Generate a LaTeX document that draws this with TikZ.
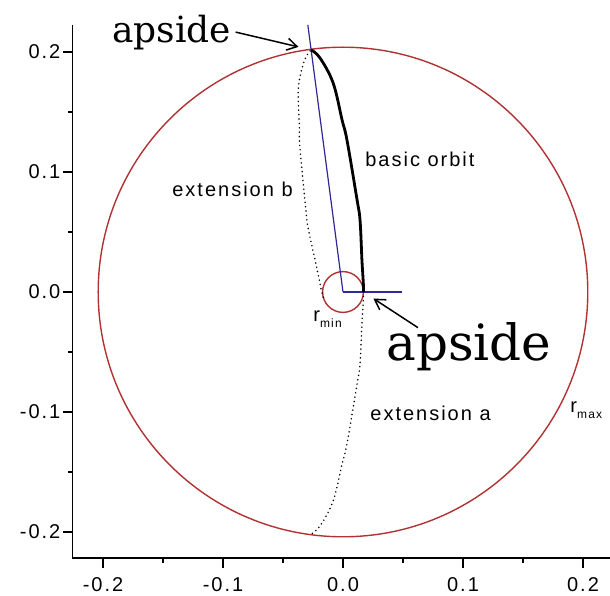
\documentclass[tikz,border=0pt]{standalone}
\usepackage{fontspec}
\usepackage{tikz}
\usetikzlibrary{arrows.meta}
\newfontfamily\plotfont[LetterSpace=10]{Liberation Sans}
\newfontfamily\notefont{DejaVu Serif}
\definecolor{OrbRed}{RGB}{176,50,50}
\definecolor{OrbBlue}{RGB}{46,40,150}
\newcommand{\orbitarc}[1]{\draw[#1] plot[smooth,tension=0.6] coordinates {(0:0.017) (20:0.0181) (38:0.0211) (59.4:0.031) (76.7:0.0617) (81.3:0.0776) (88.5:0.1267) (90.3:0.1433) (92.7:0.1744) (95.6:0.1959) (97.5:0.2035)};}

\begin{document}
\begin{tikzpicture}[x=600pt,y=600pt,>={Straight Barb[length=5pt,width=6pt]}]
  \tikzstyle{axisline}=[black,line width=0.6pt]
  \tikzstyle{ring}=[OrbRed,line width=0.7pt]
  \tikzstyle{apsline}=[OrbBlue,line width=0.6pt]
  \tikzstyle{orbitline}=[black,line width=1.4pt]
  \tikzstyle{extline}=[black,line width=0.85pt,line cap=round,dash pattern=on 0pt off 2.2pt]
  \tikzstyle{plotlabel}=[inner sep=0pt,anchor=base west,font=\plotfont\fontsize{10}{12}\selectfont]
  \tikzstyle{ticklabel}=[inner sep=0pt,font=\plotfont\fontsize{10}{12}\selectfont]
  \tikzstyle{biglabel}=[inner sep=0pt,anchor=base west]
  \useasboundingbox (-0.28583,-0.25333) rectangle (0.2225,0.24333);
  % axes
  \draw[axisline] (-0.2252,0.2225) -- (-0.2252,-0.2217) -- (0.2225,-0.2217);
  \foreach \v/\t in {-0.2/-0.2,-0.1/-0.1,0/0.0,0.1/0.1,0.2/0.2} {
    \draw[axisline] (\v,-0.2217) -- ++(0,-5pt);
    \node[ticklabel] at (\v,-0.2442) {\t};
    \draw[axisline] (-0.2252,\v) -- ++(-5pt,0);
    \node[ticklabel,anchor=east] at (-0.2352,\v) {\t};
  }
  \foreach \v in {-0.15,-0.05,0.05,0.15} {
    \draw[axisline] (\v,-0.2217) -- ++(0,-2.5pt);
    \draw[axisline] (-0.2252,\v) -- ++(-2.5pt,0);
  }
  % circles and apsides
  \coordinate (o) at (0,0);
  \coordinate (peri) at (0:0.017);
  \coordinate (apo) at (97.5:0.2035);
  \draw[ring] (o) circle (0.204);
  \draw[ring] (o) circle (0.017);
  \draw[apsline] (o) -- (0.049,0);
  \draw[apsline] (o) -- (97.5:0.2245);
  \orbitarc{orbitline}
  \begin{scope}[yscale=-1]
    \orbitarc{extline}
  \end{scope}
  \begin{scope}[cm={-0.9659,-0.2588,-0.2588,0.9659,(0,0)}]
    \orbitarc{extline}
  \end{scope}
  % labels
  \node[plotlabel] (orb) at (0.0183,0.1042) {basic orbit};
  \node[plotlabel] (exb) at (-0.1425,0.0792) {extension b};
  \node[plotlabel] (exa) at (0.0225,-0.1067) {extension a};
  \node[plotlabel] (rmax) at (0.1892,-0.1008) {r\raisebox{-3pt}{\fontsize{6}{7}\selectfont max}};
  \node[plotlabel] (rmin) at (-0.0250,-0.025) {r\raisebox{-3pt}{\fontsize{6}{7}\selectfont min}};
  \node[biglabel,font=\notefont\fontsize{18}{21}\selectfont] (at) at (-0.1925,0.2083) {apside};
  \node[biglabel,font=\notefont\fontsize{25}{29}\selectfont] (ab) at (0.0358,-0.0567) {apside};
  \draw[->,line width=0.75pt,shorten >=6.5pt] ([xshift=2pt]at.east) -- (apo);
  \draw[->,line width=0.75pt,shorten >=6pt] ([xshift=16pt,yshift=-3pt]ab.north west) -- (peri);
\end{tikzpicture}
\end{document}
